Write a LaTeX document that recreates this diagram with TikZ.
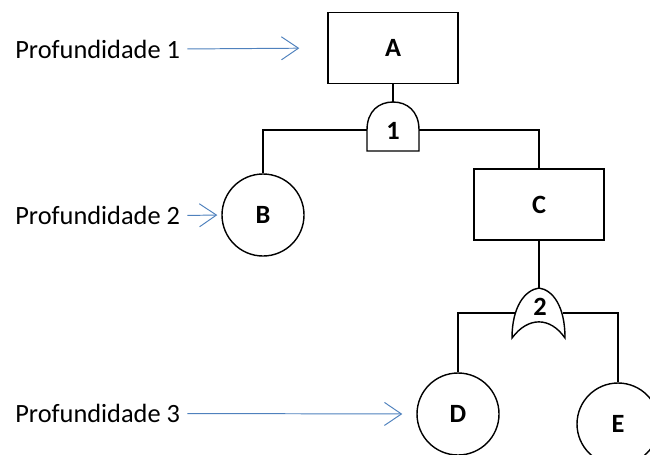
\documentclass[tikz,border=0pt]{standalone}
\usepackage{fontspec}
\setmainfont{Carlito}
\usetikzlibrary{arrows.meta,positioning}
\definecolor{arrowblue}{RGB}{79,129,189}

\tikzset{
  event/.style={draw,line width=0.8pt,minimum width=2.6cm,minimum height=1.42cm,
    font=\fontsize{15}{18}\selectfont\bfseries},
  basic/.style={draw,circle,line width=0.8pt,minimum size=1.64cm,inner sep=0pt,
    font=\fontsize{15}{18}\selectfont\bfseries},
  gatenum/.style={inner sep=0pt,font=\fontsize{15}{18}\selectfont\bfseries},
  level/.style={anchor=west,inner sep=0pt,font=\fontsize{15}{18}\selectfont},
  levelarrow/.style={arrowblue,line width=0.55pt,shorten <=0.14cm,
    -{Straight Barb[length=3.4mm,width=4.6mm,line width=0.55pt]}},
  wire/.style={line width=0.8pt}
}

\begin{document}
\begin{tikzpicture}
\useasboundingbox (0,0) rectangle (13,9.08);

% events
\node[event] (A) at (7.86,8.12) {A};
\node[event] (C) at (10.78,4.99) {C};
\node[basic] (B) at (5.26,4.78) {B};
\node[basic] (D) at (9.16,0.8) {D};
\node[basic] (E) at (12.36,0.6) {E};

% gate 1 (and)
\coordinate (g1top) at (7.86,7.04);
\coordinate (g1w) at (7.34,6.48);
\coordinate (g1e) at (8.38,6.48);
\draw[wire] (7.34,6.06) -- (g1w) .. controls (7.34,6.86) and (7.58,7.04) .. (g1top)
  .. controls (8.14,7.04) and (8.38,6.86) .. (g1e) -- (8.38,6.06) -- cycle;
\node[gatenum] (n1) at (7.86,6.47) {1};

% gate 2 (or)
\coordinate (g2top) at (10.78,3.32);
\coordinate (g2w) at (10.30,2.82);
\coordinate (g2e) at (11.26,2.82);
\draw[wire] (10.24,2.32) .. controls (10.24,2.95) and (10.5,3.28) .. (g2top)
  .. controls (11.06,3.28) and (11.30,2.95) .. (11.30,2.32)
  .. controls (11.0,2.75) and (10.56,2.75) .. cycle;
\node[gatenum] (n2) at (10.8,2.94) {2};

% tree wires
\draw[wire] (A.south) -- (g1top);
\draw[wire] (g1w) -| (B.north);
\draw[wire] (g1e) -| (C.north);
\draw[wire] (C.south) -- (g2top);
\draw[wire] (g2w) -| (D.north);
\draw[wire] (g2e) -| (E.north);

% depth levels
\node[level] (p1) at (0.3,8.1) {Profundidade 1};
\node[level] (p2) at (0.3,4.77) {Profundidade 2};
\node[level] (p3) at (0.3,0.81) {Profundidade 3};

\draw[levelarrow,shorten >=0.56cm] (p1.east) -- (A.west);
\draw[levelarrow,shorten >=0.08cm] (p2.east) -- (B.west);
\draw[levelarrow,shorten >=0.28cm] (p3.east) -- (D.west);
\end{tikzpicture}
\end{document}
